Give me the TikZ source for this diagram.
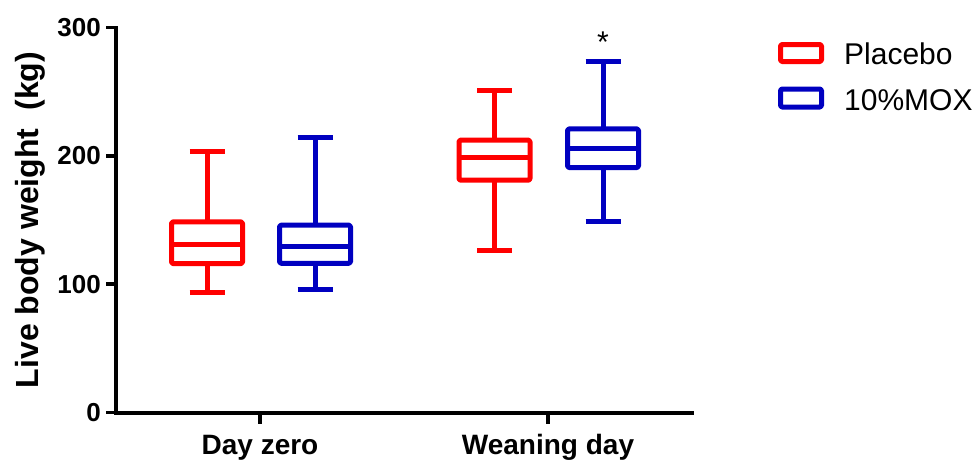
\documentclass[tikz,border=0pt]{standalone}
\usepackage{fontspec}
\setmainfont{Liberation Sans}
\definecolor{pred}{RGB}{255,0,0}
\definecolor{mblue}{RGB}{0,0,192}

\begin{document}
\begin{tikzpicture}[
  x=1pt, y=-1pt,
  axis/.style      = {line width=4pt, line join=miter},
  tick/.style      = {line width=3.5pt},
  boxline/.style   = {line width=5pt, line join=round},
  ticklabel/.style = {font=\fontsize{26}{26}\selectfont\bfseries, anchor=east, inner sep=0pt},
  catlabel/.style  = {font=\fontsize{28}{28}\selectfont\bfseries, anchor=base, inner sep=0pt},
  keylabel/.style  = {font=\fontsize{30}{30}\selectfont, anchor=base west, inner sep=0pt}
]
  \useasboundingbox (0,0) rectangle (978,459);

  % axes
  \coordinate (origin) at (116,412.5);
  \coordinate (ytop) at (116,26);
  \coordinate (xend) at (694,412.5);
  \draw[axis] (ytop) -- (origin) -- (xend);

  % y axis title
  \node[rotate=90, font=\fontsize{32}{32}\selectfont\bfseries, anchor=base, inner sep=0pt]
    (ytitle) at (38,220) {Live body weight~~(kg)};

  \begin{scope}[shift={(origin)}, y=1.2833pt]
    % y ticks
    \foreach \v in {0,100,200,300} {
      \draw[tick] (-10,\v) -- (0,\v);
      \node[ticklabel] (ylab\v) at (-15,\v) {\v};
    }

    % x ticks and groups
    \draw[tick] (144,0) -- (144,-8.6);
    \node[catlabel] (dayzero) at (144,-33.1) {Day zero};
    \draw[tick] (432,0) -- (432,-8.6);
    \node[catlabel] (weaning) at (432,-33.1) {Weaning day};

    % box plots: centre/min/q1/median/q3/max/colour
    \foreach \cx/\lo/\qa/\md/\qb/\hi/\col in {
        91/93.4/116/131.3/148.6/203.2/pred,
        199/95.5/116.3/129.7/146/214.4/mblue,
        378.5/126.6/181/198.8/212.3/251.3/pred,
        487/148.7/190.9/205.9/221/273.4/mblue} {
      \draw[boxline, \col, rounded corners=1.5pt] (\cx-35.5,\qa) rectangle (\cx+35.5,\qb);
      \draw[boxline, \col] (\cx-35.5,\md) -- (\cx+35.5,\md);
      \draw[boxline, \col] (\cx,\qb) -- (\cx,\hi) (\cx-17.5,\hi) -- (\cx+17.5,\hi);
      \draw[boxline, \col] (\cx,\qa) -- (\cx,\lo) (\cx-17.5,\lo) -- (\cx+17.5,\lo);
    }
  \end{scope}

  % significance mark
  \node[font=\fontsize{30}{30}\selectfont, anchor=base, inner sep=0pt] (star) at (603,52.5) {*};

  % legend
  \draw[boxline, pred, rounded corners=1.5pt] (780.5,44.5) rectangle (821.5,61.5);
  \node[keylabel] (keyplacebo) at (844,64) {Placebo};
  \draw[boxline, mblue, rounded corners=1.5pt] (780.5,89) rectangle (821.5,107);
  \node[keylabel] (keymox) at (844,110) {10\%MOX};

\end{tikzpicture}
\end{document}
